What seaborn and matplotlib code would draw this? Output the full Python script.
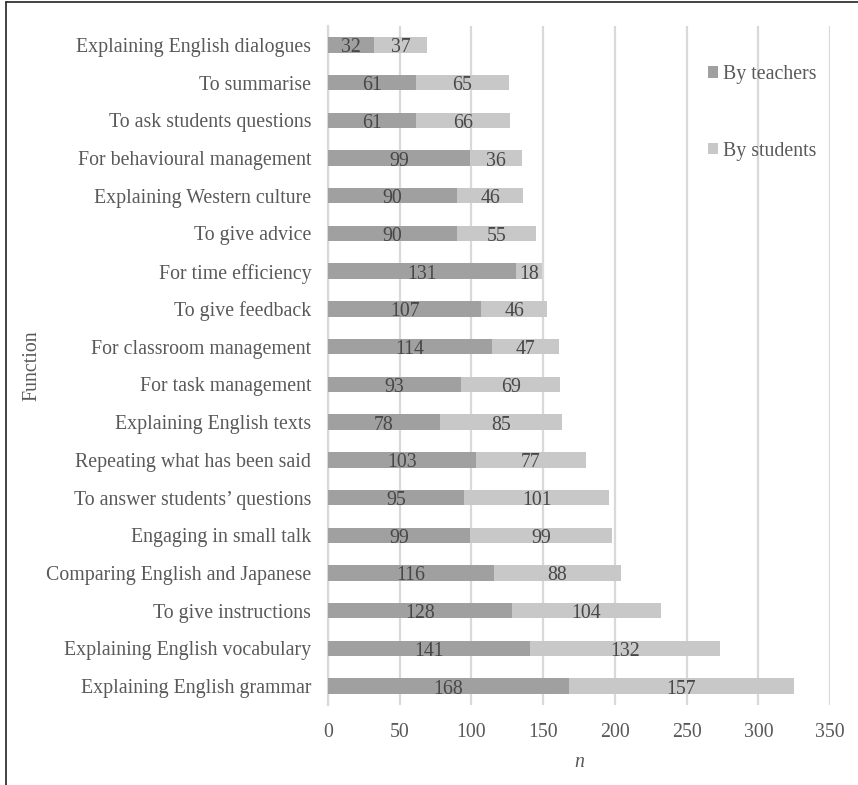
import matplotlib
matplotlib.use("Agg")
import matplotlib.pyplot as plt
from matplotlib.lines import Line2D
from matplotlib.patches import Patch
import seaborn as sns
import pandas as pd

functions = [
    "Explaining English dialogues",
    "To summarise",
    "To ask students questions",
    "For behavioural management",
    "Explaining Western culture",
    "To give advice",
    "For time efficiency",
    "To give feedback",
    "For classroom management",
    "For task management",
    "Explaining English texts",
    "Repeating what has been said",
    "To answer students\u2019 questions",
    "Engaging in small talk",
    "Comparing English and Japanese",
    "To give instructions",
    "Explaining English vocabulary",
    "Explaining English grammar",
]
by_teachers = [32, 61, 61, 99, 90, 90, 131, 107, 114, 93, 78, 103, 95, 99, 116, 128, 141, 168]
by_students = [37, 65, 66, 36, 46, 55, 18, 46, 47, 69, 85, 77, 101, 99, 88, 104, 132, 157]
x_ticks = [0, 50, 100, 150, 200, 250, 300, 350]

teacher_color = "#a0a0a0"
student_color = "#c8c8c8"
text_color = "#595959"
value_color = "#474747"
grid_color = "#d9d9d9"

sns.set_theme(style="white")
plt.rcParams["font.family"] = ["Liberation Serif", "DejaVu Serif"]

df = pd.DataFrame({
    "Function": functions,
    "teachers": by_teachers,
    "students": by_students,
})
df["total"] = df["teachers"] + df["students"]

fig = plt.figure(figsize=(8.58, 7.85), dpi=100)
ax = fig.add_axes([0.3823, 0.1019, 0.5851, 0.865])

# stacked bars: full total in the light shade, teachers' share on top of it
sns.barplot(data=df, y="Function", x="total", order=functions, orient="h",
            color=student_color, saturation=1, width=0.41, linewidth=0,
            ax=ax, zorder=2)
sns.barplot(data=df, y="Function", x="teachers", order=functions, orient="h",
            color=teacher_color, saturation=1, width=0.41, linewidth=0,
            ax=ax, zorder=3)

fs = 14.3
for i, (t, s) in enumerate(zip(by_teachers, by_students)):
    ax.text(t / 2, i + 0.08, str(t), ha="center", va="center",
            fontsize=fs, color=value_color, zorder=4)
    ax.text(t + s / 2, i + 0.08, str(s), ha="center", va="center",
            fontsize=fs, color=value_color, zorder=4)

ax.set_xlim(0, 350)
ax.set_ylim(17.5, -0.5)
ax.set_xticks(x_ticks)
ax.set_xticklabels([str(v) for v in x_ticks])
ax.xaxis.grid(True, color=grid_color, linewidth=1.6, zorder=0)
ax.yaxis.grid(False)
ax.set_axisbelow(True)
for side in ["top", "right", "bottom"]:
    ax.spines[side].set_visible(False)
ax.spines["left"].set_color(grid_color)
ax.spines["left"].set_linewidth(1.6)
ax.tick_params(axis="both", length=0, labelsize=fs, colors=text_color)
ax.tick_params(axis="x", pad=13)
ax.tick_params(axis="y", pad=12)

ax.set_xlabel("n", fontsize=fs, style="italic", color=text_color)
ax.xaxis.set_label_coords(0.5, -0.071)
ax.set_ylabel("Function", fontsize=fs, color=text_color)
ax.yaxis.set_label_coords(-0.571, 0.5)

handles = [
    Patch(facecolor=teacher_color, edgecolor="none", label="By teachers"),
    Patch(facecolor=student_color, edgecolor="none", label="By students"),
]
leg = ax.legend(handles=handles, loc="upper left", bbox_to_anchor=(0.721, 0.969),
                frameon=False, fontsize=fs, labelspacing=2.9,
                handlelength=0.5, handleheight=0.5, handletextpad=0.25)
for txt in leg.get_texts():
    txt.set_color(text_color)

# frame lines along the top and left of the figure
fig.add_artist(Line2D([0.0065, 0.0065], [0, 0.9975], color="#222222", lw=1.2,
                      transform=fig.transFigure))
fig.add_artist(Line2D([0.0065, 1.0], [0.9975, 0.9975], color="#222222", lw=1.2,
                      transform=fig.transFigure))

fig.savefig("out.png", dpi=100, facecolor="white")
